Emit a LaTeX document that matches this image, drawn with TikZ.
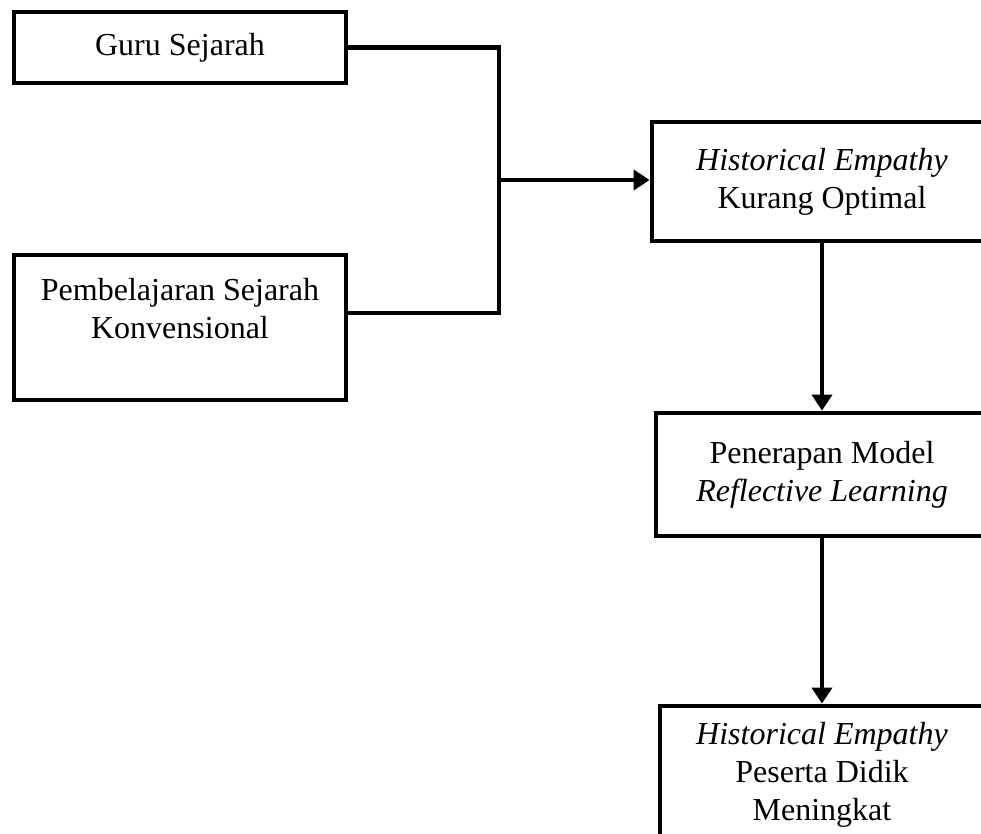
\documentclass[tikz,border=0pt]{standalone}
\usepackage{fontspec}
\setmainfont{Liberation Serif}
\usetikzlibrary{positioning,arrows.meta}

\begin{document}
\begin{tikzpicture}[x=0.5pt, y=-0.5pt, on grid,
  box/.style={draw, line width=2.4pt, align=center, inner sep=0pt,
    font=\fontsize{16}{19}\selectfont},
  link/.style={line width=2.2pt},
  flow/.style={line width=2.2pt, -{Triangle[length=8pt,width=10pt]}}]
  \useasboundingbox (0,0) rectangle (981,834);
  \clip (0,0) rectangle (981,834);
  % left column
  \node[box, minimum width=166pt, minimum height=35.5pt] (guru) at (180,47.5) {Guru Sejarah};
  \node[box, minimum width=166pt, minimum height=72.5pt] (konv) [below=140pt of guru]
    {Pembelajaran Sejarah\\Konvensional\\~};
  % right column
  \node[box, minimum width=170pt, minimum height=59.5pt] (kurang) at (822,181.5)
    {\textit{Historical Empathy}\\Kurang Optimal};
  \node[box, minimum width=166pt, minimum height=61.5pt] (penerapan) [below=146.5pt of kurang]
    {Penerapan Model\\\textit{Reflective Learning}};
  \node[box, minimum width=162pt, minimum height=69pt] (meningkat) [below=150.25pt of penerapan]
    {\textit{Historical Empathy}\\Peserta Didik\\Meningkat};
  % connectors
  \coordinate (join) at (499,180);
  \draw[link] (guru.east) -| (join);
  \draw[link] ([yshift=7.25pt]konv.east) -| (join);
  \draw[flow] (join) -- (join -| kurang.west);
  \draw[flow] (kurang) -- (penerapan);
  \draw[flow] (penerapan) -- (meningkat);
\end{tikzpicture}
\end{document}
